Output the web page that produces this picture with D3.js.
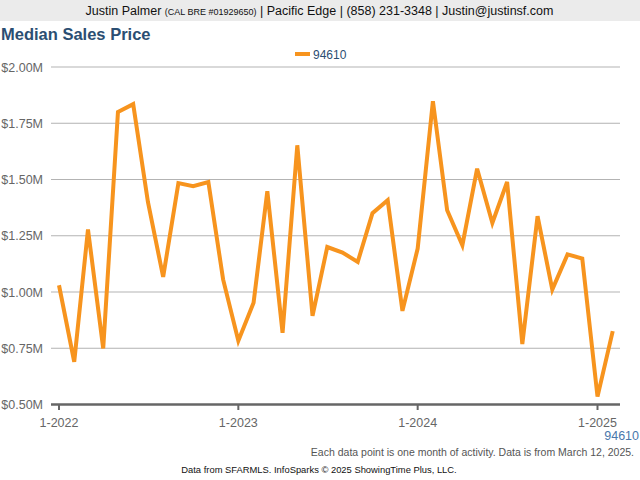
<!DOCTYPE html>
<html><head><meta charset="utf-8">
<script src="https://cdn.jsdelivr.net/npm/d3@7"></script>
<style>body{margin:0;background:#fff;} svg{display:block;font-family:Arial,"Liberation Sans",sans-serif;}</style>
</head><body>
<svg id="c" width="640" height="480"></svg>
<script>
const seriesName = "94610";
const months = ["2022-01","2022-02","2022-03","2022-04","2022-05","2022-06","2022-07","2022-08","2022-09","2022-10","2022-11","2022-12",
"2023-01","2023-02","2023-03","2023-04","2023-05","2023-06","2023-07","2023-08","2023-09","2023-10","2023-11","2023-12",
"2024-01","2024-02","2024-03","2024-04","2024-05","2024-06","2024-07","2024-08","2024-09","2024-10","2024-11","2024-12",
"2025-01","2025-02"];
const values = [1.030,0.690,1.278,0.749,1.800,1.835,1.400,1.067,1.484,1.470,1.489,1.056,
0.783,0.952,1.448,0.819,1.652,0.894,1.200,1.175,1.134,1.350,1.408,0.916,
1.193,1.848,1.363,1.208,1.548,1.307,1.489,0.769,1.337,1.011,1.167,1.149,
0.535,0.826];
const yTicks = [0.5,0.75,1.0,1.25,1.5,1.75,2.0];
const xTickLabels = ["1-2022","1-2023","1-2024","1-2025"];

const svg = d3.select("#c");
const parse = d3.timeParse("%Y-%m");
const data = months.map((m,i)=>({d:parse(m), v:values[i]}));

// header
svg.append("rect").attr("x",0).attr("y",0).attr("width",640).attr("height",21).attr("fill","#ebebeb");
const ht = svg.append("text").attr("x",319.5).attr("y",15).attr("text-anchor","middle").attr("font-size",12.5).attr("fill","#111");
ht.append("tspan").text("Justin Palmer ");
ht.append("tspan").attr("font-size",9).text("(CAL BRE #01929650)");
ht.append("tspan").text(" | Pacific Edge | (858) 231-3348 | Justin@justinsf.com");

svg.append("text").attr("x",1).attr("y",40).attr("font-size",16.5).attr("font-weight","bold").attr("fill","#2b4e72").text("Median Sales Price");

// legend
svg.append("line").attr("x1",295).attr("x2",310).attr("y1",54).attr("y2",54).attr("stroke","#f7941e").attr("stroke-width",4);
svg.append("text").attr("x",313).attr("y",58.5).attr("font-size",12).attr("fill","#2b4e72").text(seriesName);

const x = d3.scaleTime().domain([parse("2022-01"), parse("2025-01")]).range([59, 597.5]);
const y = d3.scaleLinear().domain([0.5,2.0]).range([404.5,67]);
const left = 51, right = 620;

// grid
svg.append("g").selectAll("line").data(yTicks.slice(1)).join("line")
  .attr("x1",left).attr("x2",right).attr("y1",d=>y(d)).attr("y2",d=>y(d))
  .attr("stroke","#b3b3b3").attr("stroke-width",1);
svg.append("g").selectAll("text").data(yTicks).join("text")
  .attr("x",43).attr("y",d=>y(d)+4.5).attr("text-anchor","end").attr("font-size",12.5).attr("fill","#666")
  .text(d=>"$"+d.toFixed(2)+"M");

// x axis
const xTickDates = xTickLabels.map(s=>{const [m,yr]=s.split("-"); return new Date(+yr, +m-1, 1);});
svg.append("line").attr("x1",left).attr("x2",right).attr("y1",404.5).attr("y2",404.5).attr("stroke","#666").attr("stroke-width",2.5);
svg.append("g").selectAll("line").data(xTickDates).join("line")
  .attr("x1",d=>x(d)).attr("x2",d=>x(d)).attr("y1",404).attr("y2",410).attr("stroke","#666").attr("stroke-width",2);
svg.append("g").selectAll("text").data(xTickDates).join("text")
  .attr("x",d=>x(d)).attr("y",427).attr("text-anchor","middle").attr("font-size",12.5).attr("fill","#666")
  .text((d,i)=>xTickLabels[i]);

// line
svg.append("path").datum(data)
  .attr("d", d3.line().x(d=>x(d.d)).y(d=>y(d.v)))
  .attr("fill","none").attr("stroke","#f7941e").attr("stroke-width",4).attr("stroke-linejoin","miter").attr("stroke-miterlimit",4);

svg.append("text").attr("x",639).attr("y",440).attr("text-anchor","end").attr("font-size",12.5).attr("fill","#4a78ab").text(seriesName);
svg.append("text").attr("x",634).attr("y",456).attr("text-anchor","end").attr("font-size",10.5).attr("fill","#555")
  .text("Each data point is one month of activity. Data is from March 12, 2025.");
svg.append("text").attr("x",319).attr("y",473).attr("text-anchor","middle").attr("font-size",9.4).attr("fill","#111")
  .text("Data from SFARMLS. InfoSparks \u00a9 2025 ShowingTime Plus, LLC.");
</script>
</body></html>
